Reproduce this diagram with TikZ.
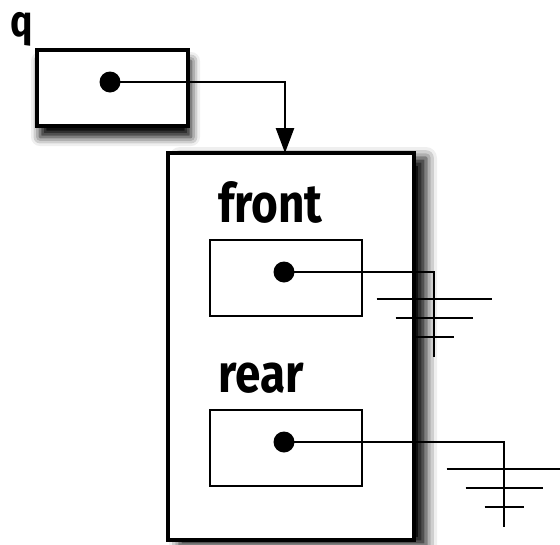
\documentclass[tikz,border=0pt]{standalone}
\usepackage{fontspec}
\newfontfamily\handfont[FakeStretch=0.85]{Fira Sans}
\usetikzlibrary{arrows.meta,shadows.blur}
\begin{document}
\begin{tikzpicture}[x=1pt,y=-1pt,
  outerbox/.style={draw=black,fill=white,line width=3.3pt,inner sep=0pt},
  innerbox/.style={draw=black,fill=white,line width=2.6pt,inner sep=0pt,minimum width=152pt,minimum height=76pt},
  ptrdot/.style={circle,fill=black,inner sep=0pt,minimum size=21pt},
  wire/.style={line width=2.6pt,line cap=butt},
  lbl/.style={font=\handfont\bfseries\fontsize{54}{60}\selectfont,inner sep=0pt,anchor=base west},
  groundsym/.pic={
    \draw[wire] (-57.5,-58) -- (57.5,-58);
    \draw[wire] (-38.5,-39) -- (38.5,-39);
    \draw[wire] (-19.5,-20) -- (19.5,-20);
  }]
\useasboundingbox (0,0) rectangle (560,544);
% q
\node[lbl,font=\handfont\bfseries\fontsize{44}{50}\selectfont] (qlbl) at (10,36) {q};
\node[outerbox,minimum width=151pt,minimum height=76pt,
  blur shadow={shadow xshift=3pt,shadow yshift=-11pt,shadow blur radius=9pt,shadow opacity=100}] (qbox) at (112.5,88) {};
\node[ptrdot] (qdot) at (110,82) {};
% queue record
\node[outerbox,minimum width=246pt,minimum height=387pt,
  blur shadow={shadow xshift=12pt,shadow yshift=-5pt,shadow blur radius=11pt,shadow opacity=100}] (rec) at (291,346.5) {};
\node[lbl] (frontlbl) at (218,222) {front};
\node[innerbox] (frontbox) at (286,278) {};
\node[ptrdot] (frontdot) at (284,272) {};
\node[lbl] (rearlbl) at (218,392) {rear};
\node[innerbox] (rearbox) at (286,448) {};
\node[ptrdot] (reardot) at (284,442) {};
% connectors
\coordinate (qtarget) at (285,153);
\draw[wire,-{Triangle[length=25pt,width=18pt]}] (qdot.center) -| (qtarget);
\coordinate (g1) at (434,357);
\coordinate (g2) at (504,527);
\draw[wire] (frontdot.center) -| (g1);
\draw[wire] (reardot.center) -| (g2);
\pic at (g1) {groundsym};
\pic at (g2) {groundsym};
\end{tikzpicture}
\end{document}
